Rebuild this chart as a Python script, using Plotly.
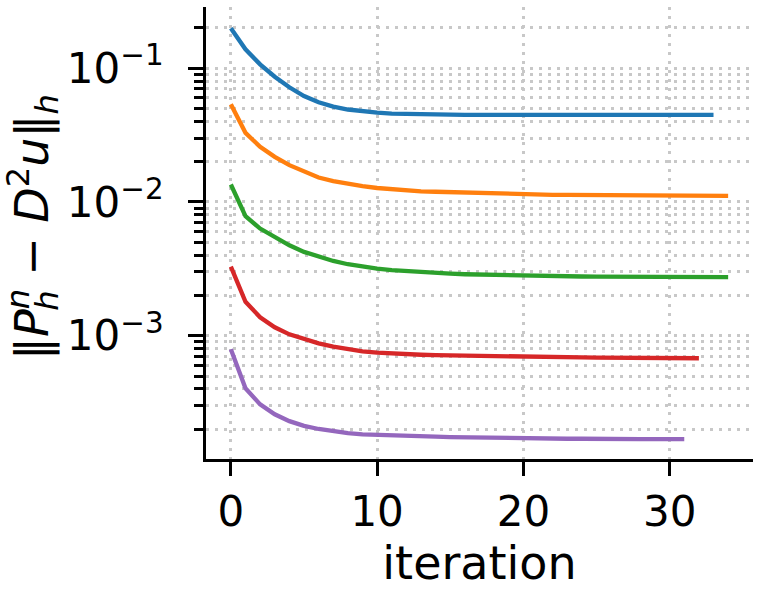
import plotly.graph_objects as go

blue = [0.198, 0.138, 0.1066, 0.0861, 0.0718, 0.0618, 0.0555, 0.0515, 0.0490, 0.0474,
        0.0464, 0.0457, 0.0453, 0.0450, 0.0449, 0.0448, 0.0447, 0.0447, 0.0446, 0.0446,
        0.0446, 0.0446, 0.0446, 0.0446, 0.0446, 0.0446, 0.0446, 0.0446, 0.0446, 0.0446,
        0.0446, 0.0446, 0.0446, 0.0446]
orange = [0.0536, 0.0328, 0.0258, 0.0217, 0.0188, 0.0168, 0.0152, 0.0143, 0.0136, 0.0131,
          0.0127, 0.0124, 0.0122, 0.0120, 0.0119, 0.0118, 0.0117, 0.0116, 0.0115, 0.0114,
          0.01137, 0.01133, 0.0113, 0.01127, 0.01125, 0.01123, 0.01121, 0.0112, 0.01118, 0.01116,
          0.01115, 0.01113, 0.01112, 0.0111, 0.0111]
green = [0.01349, 0.00782, 0.00632, 0.00548, 0.00474, 0.00423, 0.00388, 0.00362, 0.00342, 0.00327,
         0.00317, 0.00309, 0.00303, 0.00298, 0.00294, 0.00291, 0.00288, 0.00286, 0.00284, 0.00282,
         0.00280, 0.00279, 0.00278, 0.00277, 0.00277, 0.00276, 0.00276, 0.00275, 0.00275, 0.00275,
         0.00274, 0.00274, 0.00274, 0.00274, 0.00274]
red = [0.00328, 0.001795, 0.001374, 0.001156, 0.001024, 0.000939, 0.000877, 0.000828, 0.000792, 0.000765,
       0.000747, 0.000735, 0.000727, 0.000721, 0.000716, 0.000712, 0.000708, 0.000705, 0.000702, 0.000699,
       0.000697, 0.000695, 0.000693, 0.000691, 0.000689, 0.000687, 0.000685, 0.000684, 0.000683, 0.000682,
       0.000681, 0.000680, 0.000679]
purple = [0.000791, 0.000405, 0.000307, 0.000259, 0.000230, 0.000212, 0.000201, 0.000193, 0.000187, 0.000183,
          0.000181, 0.000179, 0.000178, 0.000177, 0.000176, 0.000175, 0.000174, 0.000173, 0.000172, 0.000172,
          0.000171, 0.000171, 0.000170, 0.000170, 0.000170, 0.000169, 0.000169, 0.000169, 0.000169, 0.000169,
          0.000169, 0.000169]

series = [blue, orange, green, red, purple]
colors = ["#1f77b4", "#ff7f0e", "#2ca02c", "#d62728", "#9467bd"]

x_ticks = [0, 10, 20, 30]
y_ticks = [1e-1, 1e-2, 1e-3]
y_ticktext = ["10<sup>\u22121</sup>", "10<sup>\u22122</sup>", "10<sup>\u22123</sup>"]
minor_vals = [k * 10.0 ** d for d in (-4, -3, -2, -1) for k in range(2, 10)]
minor_vals = [v for v in minor_vals if 1.2e-4 < v < 0.28]

fig = go.Figure()
for ys, c in zip(series, colors):
    fig.add_trace(go.Scatter(x=list(range(len(ys))), y=ys, mode="lines",
                             line=dict(color=c, width=4.3), showlegend=False))

font = "DejaVu Sans"
grid = dict(gridcolor="#c8c8c8", gridwidth=2.5, griddash="3px,6px")
fig.update_layout(
    width=760, height=599,
    margin=dict(l=206, r=7, t=7, b=140),
    plot_bgcolor="white", paper_bgcolor="white",
    font=dict(family=font, size=42, color="black"),
)
fig.update_xaxes(
    range=[-1.7, 35.7], tickvals=x_ticks, showline=True, linecolor="black", linewidth=3,
    ticks="outside", ticklen=14, tickwidth=3, tickcolor="black",
    showgrid=True, zeroline=False, ticklabelstandoff=0,
    title=dict(text="iteration", font=dict(size=46), standoff=0), **grid,
)
ytitle = ("\u2016<i>P</i><sup><i><span style=\"letter-spacing:-22px\">n</span></i></sup>"
          "<sub><i>h</i></sub> \u2212 <i>D</i><sup>2</sup><i>u</i>\u2016<sub><i>h</i></sub>")
fig.update_yaxes(
    type="log", range=[-3.921, -0.544], tickvals=y_ticks, ticktext=y_ticktext,
    showline=True, linecolor="black", linewidth=3,
    ticks="outside", ticklen=15, tickwidth=3, tickcolor="black",
    showgrid=True, zeroline=False, ticklabelstandoff=16,
    minor=dict(tickvals=minor_vals, ticks="outside", ticklen=9, tickwidth=2.5,
               tickcolor="black", showgrid=True, **grid),
    **grid,
)
fig.add_annotation(
    text=ytitle, textangle=-90, showarrow=False,
    xref="paper", yref="paper", x=0, y=0.5, xanchor="center", yanchor="middle",
    xshift=-174, yshift=6, font=dict(size=46, family=font, color="black"),
)
fig.write_html("out.html")
